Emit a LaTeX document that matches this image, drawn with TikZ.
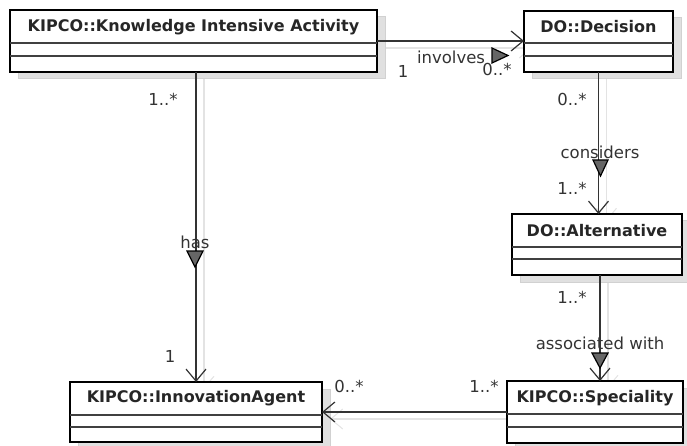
\documentclass[tikz,border=0pt]{standalone}
\usepackage{fontspec}
\setmainfont{DejaVu Sans}
\usetikzlibrary{arrows.meta,shadows,calc}
\pgfdeclarelayer{bg}
\pgfsetlayers{bg,main}
\begin{document}
\begin{tikzpicture}[x=1pt,y=-1pt,
  classbox/.style={draw=black, line width=2.6pt, fill=white, anchor=north west,
    inner sep=0pt, outer sep=0pt,
    drop shadow={shadow xshift=8pt, shadow yshift=-7pt, fill=black!12,
      draw=black!18, line width=1pt, opacity=1}},
  classtitle/.style={font=\fontsize{16}{19}\selectfont\bfseries, text=black!85, inner sep=0pt},
  compline/.style={line width=1.5pt, draw=black!75},
  assoc/.style={line width=1.3pt, draw=black!80,
    -{Straight Barb[length=12pt,width=20pt,line width=1.2pt]}},
  assocshadow/.style={line width=1.1pt, draw=black!11,
    -{Straight Barb[length=12pt,width=20pt,line width=1pt]}},
  lbl/.style={font=\fontsize{16.5}{19}\selectfont, text=black!80, inner sep=0pt},
  dirtri/.style={fill=black!60, draw=black, line width=1.2pt, line join=miter},
]
\useasboundingbox (0,0) rectangle (687,446);

% two empty compartments below the title of a class box
\newcommand\umlcompartments[3]{%
  \draw[compline] ([yshift=-#2pt]#1.north west) -- ([yshift=-#2pt]#1.north east);
  \draw[compline] ([yshift=-#3pt]#1.north west) -- ([yshift=-#3pt]#1.north east);}

% classes
\node[classbox, minimum width=367pt, minimum height=62pt] (kia) at (10,10) {};
\node[classtitle] (kiaT) at ($(kia.north)+(0,17)$) {KIPCO::Knowledge Intensive Activity};
\umlcompartments{kia}{33}{46}

\node[classbox, minimum width=149pt, minimum height=61pt] (dec) at (524,11) {};
\node[classtitle] (decT) at ($(dec.north)+(0,16)$) {DO::Decision};
\umlcompartments{dec}{32}{45}

\node[classbox, minimum width=170pt, minimum height=61pt] (alt) at (512,214) {};
\node[classtitle] (altT) at ($(alt.north)+(0,17)$) {DO::Alternative};
\umlcompartments{alt}{33}{45}

\node[classbox, minimum width=252pt, minimum height=60pt] (ia) at (70,382) {};
\node[classtitle] (iaT) at ($(ia.north)+(0,16)$) {KIPCO::InnovationAgent};
\umlcompartments{ia}{33}{45}

\node[classbox, minimum width=176pt, minimum height=62pt] (spec) at (507,381) {};
\node[classtitle] (specT) at ($(spec.north)+(0,17)$) {KIPCO::Speciality};
\umlcompartments{spec}{33}{46}

% end points of the vertical associations
\coordinate (kiaOut) at (kia.south -| ia.north);
\coordinate (altOut) at ($(alt.south)+(3,0)$);

% faint shadows of the associations
\begin{pgfonlayer}{bg}
  \draw[assocshadow] ([shift={(8,7)}]kia.east) -- ([shift={(8,7)}]kia.east -| dec.west);
  \draw[assocshadow] ([shift={(8,7)}]dec.south) -- ([shift={(8,7)}]dec.south |- alt.north);
  \draw[assocshadow] ([shift={(8,7)}]kiaOut) -- ([shift={(8,7)}]kiaOut |- ia.north);
  \draw[assocshadow] ([shift={(8,7)}]altOut) -- ([shift={(8,7)}]altOut |- spec.north);
  \draw[assocshadow] ([shift={(8,7)}]spec.west) -- ([shift={(8,7)}]spec.west -| ia.east);
\end{pgfonlayer}

% associations
\draw[assoc] (kia.east) -- (kia.east -| dec.west);
\draw[assoc] (dec.south) -- (dec.south |- alt.north);
\draw[assoc] (kiaOut) -- (kiaOut |- ia.north);
\draw[assoc] (altOut) -- (altOut |- spec.north);
\draw[assoc] (spec.west) -- (spec.west -| ia.east);

% reading-direction triangles
\draw[dirtri] (492,48) -- (492,63) -- (508,55.5) -- cycle;
\draw[dirtri] (593,160) -- (608,160) -- (600.5,176) -- cycle;
\draw[dirtri] (187,251) -- (203,251) -- (195,267) -- cycle;
\draw[dirtri] (592,353) -- (608,353) -- (600,368) -- cycle;

% association names
\node[lbl] (lInv) at (451,57) {involves};
\node[lbl] (lCon) at (600,152) {considers};
\node[lbl] (lHas) at (195,242) {has};
\node[lbl] (lAss) at (600,343) {associated with};

% multiplicities
\node[lbl] (m1) at (403,71) {1};
\node[lbl] (m2) at (497,69) {0..*};
\node[lbl] (m3) at (572,99) {0..*};
\node[lbl] (m4) at (572,188) {1..*};
\node[lbl] (m5) at (163,99) {1..*};
\node[lbl] (m6) at (170,356) {1};
\node[lbl] (m7) at (572,297) {1..*};
\node[lbl] (m8) at (349,386) {0..*};
\node[lbl] (m9) at (484,386) {1..*};
\end{tikzpicture}
\end{document}
